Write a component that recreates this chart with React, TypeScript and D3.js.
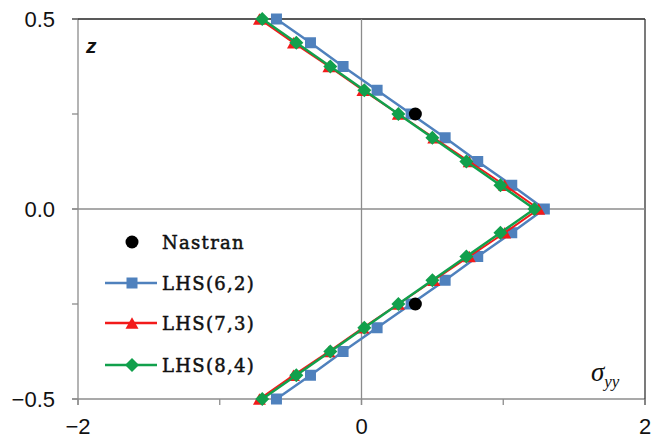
import React from "react";
import * as d3 from "d3";

// Through-thickness coordinate (z) of the sampled points
const zValues = [
  0.5, 0.4375, 0.375, 0.3125, 0.25, 0.1875, 0.125, 0.0625, 0,
  -0.0625, -0.125, -0.1875, -0.25, -0.3125, -0.375, -0.4375, -0.5,
];

// sigma_yy for each model, one value per z
const lhs62 = [
  -0.6, -0.36, -0.13, 0.11, 0.35, 0.59, 0.82, 1.06, 1.29,
  1.06, 0.82, 0.59, 0.35, 0.11, -0.13, -0.36, -0.6,
];
const lhs73 = [
  -0.72, -0.48, -0.23, 0.01, 0.26, 0.51, 0.76, 1.01, 1.25,
  1.01, 0.76, 0.51, 0.26, 0.01, -0.23, -0.48, -0.72,
];
const lhs84 = [
  -0.7, -0.46, -0.22, 0.02, 0.26, 0.5, 0.74, 0.98, 1.22,
  0.98, 0.74, 0.5, 0.26, 0.02, -0.22, -0.46, -0.7,
];

// Reference solution points
const nastranZ = [0.25, -0.25];
const nastranS = [0.38, 0.38];

const xTicks = [-2, -1, 0, 1, 2];
const xTickLabels = ["\u22122", "", "0", "", "2"];
const yTicks = [-0.5, -0.25, 0, 0.25, 0.5];
const yTickLabels = ["\u22120.5", "", "0.0", "", "0.5"];

const seriesNames = ["Nastran", "LHS(6,2)", "LHS(7,3)", "LHS(8,4)"];

const W = 653;
const H = 443;
const left = 78;
const right = 645;
const top = 19;
const bottom = 399;

const BLUE = "#4F81BD";
const RED = "#F21A1A";
const GREEN = "#11A04C";
const GRAY = "#8C8C8C";

const x = d3.scaleLinear().domain([-2, 2]).range([left, right]);
const y = d3.scaleLinear().domain([-0.5, 0.5]).range([bottom, top]);

type Pt = [number, number];

function square(cx: number, cy: number, s: number) {
  return `M${cx - s / 2},${cy - s / 2}h${s}v${s}h${-s}Z`;
}
// triangle centred on its bounding box
function triangle(cx: number, cy: number, s: number) {
  const h = (s * Math.sqrt(3)) / 2;
  return `M${cx},${cy - h / 2}L${cx + s / 2},${cy + h / 2}L${cx - s / 2},${cy + h / 2}Z`;
}
function diamond(cx: number, cy: number, r: number) {
  return `M${cx},${cy - r}L${cx + r},${cy}L${cx},${cy + r}L${cx - r},${cy}Z`;
}

const line = d3
  .line<Pt>()
  .x((d) => x(d[0]))
  .y((d) => y(d[1]));

function Series({
  values,
  color,
  width,
  marker,
}: {
  values: number[];
  color: string;
  width: number;
  marker: (cx: number, cy: number) => string;
}) {
  const pts: Pt[] = values.map((v, i) => [v, zValues[i]]);
  return (
    <g>
      <path d={line(pts) || ""} fill="none" stroke={color} strokeWidth={width} />
      {pts.map((p, i) => (
        <path key={i} d={marker(x(p[0]), y(p[1]))} fill={color} />
      ))}
    </g>
  );
}

export default function App() {
  const tickFont = "'Liberation Sans', Arial, sans-serif";
  const legendFont = "'DejaVu Serif', serif";
  const legendX = 105;
  const legendRows = [242, 283, 323, 365];
  const markers = [
    (cx: number, cy: number) => square(cx, cy, 11),
    (cx: number, cy: number) => triangle(cx, cy, 13),
    (cx: number, cy: number) => diamond(cx, cy, 7),
  ];
  const colors = [BLUE, RED, GREEN];

  return (
    <svg
      width={W}
      height={H}
      viewBox={`0 0 ${W} ${H}`}
      style={{ position: "absolute", left: 0, top: 0, background: "#fff" }}
    >
      <rect width={W} height={H} fill="#fff" />

      {/* frame: gray left/bottom, dark top/right */}
      <line x1={left} x2={left} y1={top} y2={bottom + 6} stroke={GRAY} strokeWidth={1.3} />
      <line x1={left - 6} x2={right} y1={bottom} y2={bottom} stroke={GRAY} strokeWidth={1.3} />
      <line x1={left - 6} x2={right} y1={top} y2={top} stroke="#222" strokeWidth={1.5} />
      <line x1={right} x2={right} y1={top} y2={bottom + 6} stroke="#333" strokeWidth={1.3} />

      {/* zero lines */}
      <line x1={x(0)} x2={x(0)} y1={top} y2={bottom + 6} stroke={GRAY} strokeWidth={1.3} />
      <line x1={left - 6} x2={right} y1={y(0)} y2={y(0)} stroke={GRAY} strokeWidth={1.3} />

      {/* ticks */}
      {xTicks.map((t, i) => (
        <g key={"xt" + i}>
          <line x1={x(t)} x2={x(t)} y1={bottom} y2={bottom + 6} stroke={GRAY} strokeWidth={1.3} />
          <text
            x={x(t)}
            y={434}
            textAnchor="middle"
            fontFamily={tickFont}
            fontSize={22}
            fill="#111"
          >
            {xTickLabels[i]}
          </text>
        </g>
      ))}
      {yTicks.map((t, i) => (
        <g key={"yt" + i}>
          <line x1={left - 6} x2={left} y1={y(t)} y2={y(t)} stroke={GRAY} strokeWidth={1.3} />
          <text
            x={55}
            y={y(t) + 8}
            textAnchor="end"
            fontFamily={tickFont}
            fontSize={22}
            fill="#111"
          >
            {yTickLabels[i]}
          </text>
        </g>
      ))}

      {/* data */}
      <Series values={lhs62} color={BLUE} width={2.5} marker={markers[0]} />
      <Series values={lhs73} color={RED} width={2} marker={markers[1]} />
      <Series values={lhs84} color={GREEN} width={2.5} marker={markers[2]} />
      {nastranS.map((v, i) => (
        <circle key={"n" + i} cx={x(v)} cy={y(nastranZ[i])} r={6.5} fill="#000" />
      ))}

      {/* axis titles */}
      <text
        x={86}
        y={53}
        fontFamily={tickFont}
        fontWeight="bold"
        fontStyle="italic"
        fontSize={21}
        fill="#111"
      >
        z
      </text>
      <text x={591} y={381} fontFamily="'Liberation Serif', serif" fontStyle="italic" fill="#111">
        <tspan fontSize={27}>σ</tspan>
        <tspan fontSize={17} dy={6}>yy</tspan>
      </text>

      {/* legend */}
      <circle cx={132} cy={legendRows[0]} r={6.5} fill="#000" />
      {[0, 1, 2].map((k) => (
        <g key={"lg" + k}>
          <line
            x1={legendX}
            x2={157}
            y1={legendRows[k + 1]}
            y2={legendRows[k + 1]}
            stroke={colors[k]}
            strokeWidth={2.5}
          />
          <path d={markers[k](132, legendRows[k + 1])} fill={colors[k]} />
        </g>
      ))}
      {seriesNames.map((name, i) => (
        <text
          key={"lt" + i}
          x={162}
          y={legendRows[i] + 6.5}
          fontFamily={legendFont}
          fontSize={18}
          letterSpacing={1.3}
          stroke="#111"
          strokeWidth={0.5}
          fill="#111"
        >
          {name}
        </text>
      ))}
    </svg>
  );
}
